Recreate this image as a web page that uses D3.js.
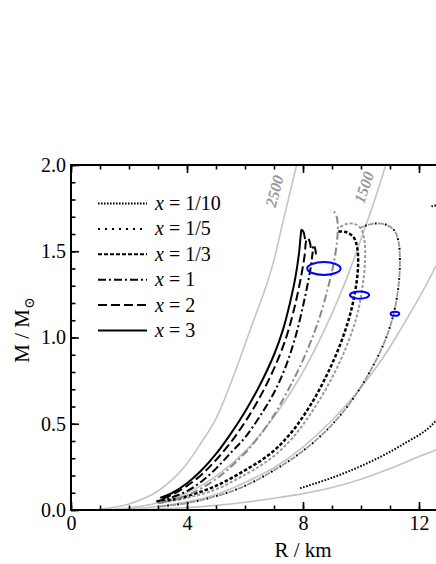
<!DOCTYPE html>
<html><head><meta charset="utf-8">
<script src="https://cdn.jsdelivr.net/npm/d3@7"></script>
<style>body{margin:0;background:#fff}svg{display:block}
svg text{font-family:'Liberation Serif','DejaVu Serif',serif !important}
svg text.sym{font-family:'DejaVu Sans',sans-serif !important}</style>
</head><body>
<svg id="c" width="436" height="564" font-family="Liberation Serif"></svg>
<script>
// ---- data (R / km, M / Msun) ----
const xTicks = [0, 4, 8, 12];
const yTicks = [0.0, 0.5, 1.0, 1.5, 2.0];
const legendLabels = ["1/10", "1/5", "1/3", "1", "2", "3"];

const gray2500 = [[1,0.005],[2,0.035],[3,0.11],[4,0.27],[4.45,0.38],[5,0.53],[5.83,0.88],[6.17,1.04],[7,1.45],[7.31,1.67],[7.78,2.0],[8,2.15]];
const gray1500 = [[1,0.0015],[2,0.012],[3,0.042],[4,0.1],[5,0.196],[6,0.34],[7,0.54],[8.13,0.84],[8.7,1.03],[9.5,1.34],[10,1.57],[10.85,2.0],[11,2.09]];
const grayC = [[2,0.006],[3,0.02],[4,0.047],[5,0.09],[6,0.16],[7,0.245],[8,0.365],[9,0.52],[10,0.71],[11,0.945],[11.34,1.04],[12,1.23],[12.6,1.42],[13,1.56]];
const grayD = [[2,0.002],[3,0.006],[4,0.014],[5,0.027],[6,0.045],[7,0.068],[8,0.095],[9,0.13],[10,0.178],[11,0.24],[12,0.31],[12.6,0.35],[13,0.39]];

const curveX3 = [[3.07,0.07],[3.5,0.1],[4,0.155],[4.5,0.23],[5,0.325],[5.5,0.44],[6,0.57],[6.5,0.72],[7,0.9],[7.3,1.04],[7.55,1.2],[7.75,1.36],[7.87,1.5],[7.92,1.59],[7.95,1.625],[8.02,1.61],[8.07,1.57]];
const curveX2 = [[3.15,0.065],[3.5,0.09],[4,0.14],[4.5,0.205],[5,0.29],[5.5,0.39],[6,0.51],[6.5,0.65],[7,0.82],[7.4,0.99],[7.7,1.17],[7.93,1.35],[8.06,1.48],[8.11,1.56],[8.17,1.575],[8.24,1.55],[8.28,1.5]];
const curveX1 = [[2.95,0.05],[3.5,0.075],[4,0.11],[4.5,0.165],[5,0.24],[5.5,0.33],[6,0.42],[6.5,0.54],[7,0.68],[7.4,0.83],[7.75,1.01],[8.05,1.22],[8.25,1.39],[8.33,1.49],[8.36,1.535],[8.42,1.515],[8.45,1.47]];
const curveGrayX1 = [[3.07,0.04],[4,0.085],[5,0.18],[6,0.33],[6.5,0.43],[7,0.55],[7.5,0.7],[8,0.87],[8.5,1.08],[8.85,1.28],[9.08,1.45],[9.18,1.57],[9.2,1.65],[9.16,1.7],[9.06,1.73],[8.94,1.735]];
const curveX13 = [[2.95,0.05],[3.5,0.06],[4,0.08],[5,0.14],[6,0.23],[6.9,0.33],[7.6,0.45],[8.3,0.62],[8.9,0.81],[9.35,0.99],[9.65,1.15],[9.83,1.3],[9.9,1.42],[9.87,1.52],[9.75,1.58],[9.5,1.61],[9.2,1.615]];
const curveGrayX13 = [[3,0.04],[4,0.07],[5,0.12],[6,0.205],[6.9,0.3],[7.7,0.43],[8.5,0.62],[9.1,0.8],[9.55,0.97],[9.85,1.12],[10.05,1.29],[10.14,1.45],[10.12,1.56],[10.0,1.63],[9.75,1.66],[9.45,1.655],[9.22,1.635]];
const curveX15 = [[3.07,0.02],[4,0.04],[5,0.08],[6,0.14],[7,0.23],[7.9,0.33],[8.8,0.46],[9.62,0.62],[10.3,0.8],[10.8,0.97],[11.1,1.12],[11.28,1.28],[11.34,1.43],[11.3,1.55],[11.15,1.62],[10.85,1.655],[10.45,1.66],[10.1,1.645],[9.97,1.635]];
const curveX110 = [[7.9,0.126],[9.05,0.19],[10.2,0.27],[11.34,0.37],[12.59,0.52],[13.2,0.8],[13.5,1.2],[13.4,1.6],[13,1.74],[12.6,1.765],[12.43,1.76]];

const ellipses = [[8.72,1.40,0.575,0.037],[9.95,1.246,0.33,0.021],[11.17,1.138,0.15,0.012]];

// ---- drawing ----
const svg = d3.select("#c");
const x = d3.scaleLinear().domain([0, 13]).range([71, 71 + 13 * 29]);
const y = d3.scaleLinear().domain([0, 2]).range([510, 165]);

svg.append("clipPath").attr("id","clip").append("rect")
  .attr("x", x(0)).attr("y", y(2)).attr("width", x(13)-x(0)).attr("height", y(0)-y(2));
const plot = svg.append("g").attr("clip-path","url(#clip)");

const lineM = d3.line().x(d=>x(d[0])).y(d=>y(d[1])).curve(d3.curveMonotoneX);
const lineC = d3.line().x(d=>x(d[0])).y(d=>y(d[1])).curve(d3.curveCatmullRom.alpha(0.5));

[gray2500, gray1500, grayC, grayD].forEach(g => {
  plot.append("path").attr("d", lineM(g)).attr("fill","none").attr("stroke","#c4c4c4").attr("stroke-width",1.6);
});

function draw(data, color, dash, w, offset) {
  plot.append("path").attr("d", lineC(data)).attr("fill","none").attr("stroke",color)
    .attr("stroke-width",w).attr("stroke-dasharray",dash).attr("stroke-dashoffset", offset||0);
}
draw(curveX110, "#000", "1.6,1.6", 2);
draw(curveX15, "#999", "6,4", 1.8);
draw(curveX15, "#000", "1.8,8.2", 2, -7.2);
draw(curveGrayX13, "#999", "3,2", 2);
draw(curveX13, "#000", "3.5,2", 2.5);
draw(curveGrayX1, "#888", "8,3,2,3", 2);
draw(curveX1, "#000", "8,3,2,3", 2);
draw(curveX2, "#000", "9,4", 2);
draw(curveX3, "#000", null, 2);

ellipses.forEach(e => {
  plot.append("ellipse").attr("cx", x(e[0])).attr("cy", y(e[1]))
    .attr("rx", x(e[2]) - x(0)).attr("ry", y(0) - y(e[3]))
    .attr("fill","none").attr("stroke","#0000ff").attr("stroke-width",2);
});

// density labels
function rotLabel(txt, px, py, ang) {
  svg.append("text").attr("transform", `translate(${px},${py}) rotate(${ang})`)
    .attr("text-anchor","middle").attr("font-size",16).attr("font-weight","bold")
    .attr("font-style","italic").attr("fill","#999").text(txt);
}
rotLabel("2500", x(7.3) - 3, y(1.84), -75);
rotLabel("1500", x(10.35) - 2, y(1.86), -71);

// axes
const fs = 20;
function styleAxis(g) {
  g.select(".domain").remove();
  g.attr("font-family", null);
  g.selectAll(".tick line").attr("stroke","#000").attr("stroke-width",1.6);
  g.selectAll("text").attr("font-size", fs).attr("fill","#000");
}
const minorX = d3.range(0, 14, 1);
const minorY = d3.range(0, 2.01, 0.1);
svg.append("g").attr("transform",`translate(0,${y(0)})`)
  .call(d3.axisBottom(x).tickValues(minorX).tickSize(-4.5).tickFormat("")).call(styleAxis);
svg.append("g").attr("transform",`translate(0,${y(0)})`)
  .call(d3.axisBottom(x).tickValues(xTicks).tickSize(-8).tickPadding(6).tickFormat(d3.format("d"))).call(styleAxis);
svg.append("g").attr("transform",`translate(0,${y(2)})`)
  .call(d3.axisTop(x).tickValues(minorX).tickSize(-4.5).tickFormat("")).call(styleAxis);
svg.append("g").attr("transform",`translate(0,${y(2)})`)
  .call(d3.axisTop(x).tickValues(xTicks).tickSize(-8).tickFormat("")).call(styleAxis);
svg.append("g").attr("transform",`translate(${x(0)},0)`)
  .call(d3.axisLeft(y).tickValues(minorY).tickSize(-4.5).tickFormat("")).call(styleAxis);
svg.append("g").attr("transform",`translate(${x(0)},0)`)
  .call(d3.axisLeft(y).tickValues(yTicks).tickSize(-8).tickPadding(5).tickFormat(d3.format(".1f"))).call(styleAxis);

// frame
svg.append("rect").attr("x", x(0)).attr("y", y(2)).attr("width", x(13)-x(0)).attr("height", y(0)-y(2))
  .attr("fill","none").attr("stroke","#000").attr("stroke-width",2);

// axis titles
svg.append("text").attr("x", 303).attr("y", 557).attr("text-anchor","middle").attr("font-size",21).text("R / km");
const yl = svg.append("text").attr("transform","translate(29,330) rotate(-90)").attr("text-anchor","middle").attr("font-size",21);
yl.append("tspan").text("M / M");
yl.append("tspan").attr("class","sym").attr("font-size",14).attr("dy",5).text("\u2299");

// legend
const legDash = ["1.6,1.4", "2,5", "4,2", "8,3,2,3", "9,4", null];
legendLabels.forEach((lab, i) => {
  const yy = 203.5 + i * 25.4;
  svg.append("line").attr("x1", 98).attr("x2", 147).attr("y1", yy).attr("y2", yy)
    .attr("stroke","#000").attr("stroke-width",2).attr("stroke-dasharray", legDash[i]);
  const t = svg.append("text").attr("x", 155).attr("y", yy + 6.5).attr("font-size", fs);
  t.append("tspan").attr("font-style","italic").text("x");
  t.append("tspan").text(" = " + lab);
});
</script>
</body></html>
